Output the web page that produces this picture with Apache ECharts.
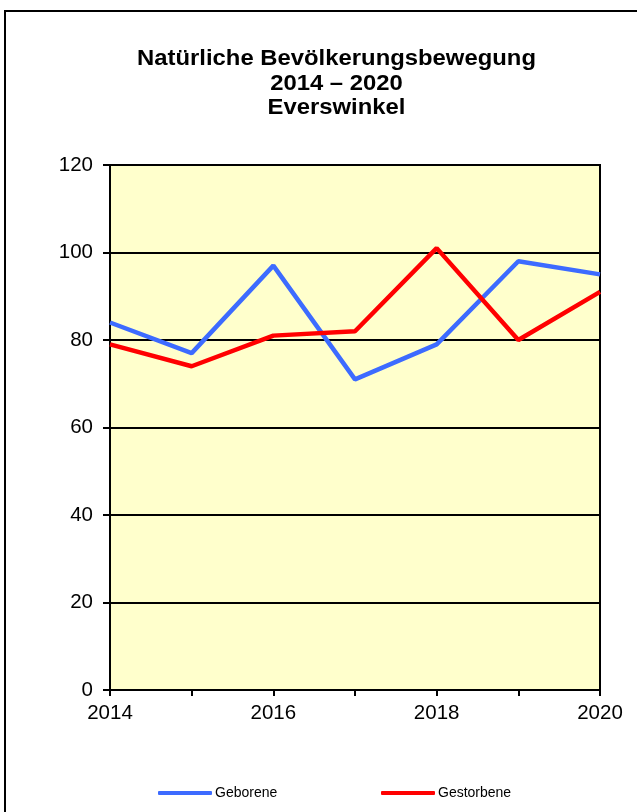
<!DOCTYPE html>
<html><head><meta charset="utf-8">
<script src="https://cdn.jsdelivr.net/npm/echarts@6/dist/echarts.min.js"></script>
<style>html,body{margin:0;padding:0;background:#fff}#c{width:637px;height:812px}</style>
</head><body><div id="c"></div>
<script>
var years = ['2014','2015','2016','2017','2018','2019','2020'];
var geborene = [84, 77, 97, 71, 79, 98, 95];
var gestorbene = [79, 74, 81, 82, 101, 80, 91];
var yTicks = [0, 20, 40, 60, 80, 100, 120];
var titleText = 'Natürliche Bevölkerungsbewegung\n2014 – 2020\nEverswinkel';

var font = 'Arial, "Liberation Sans", sans-serif';
var chart = echarts.init(document.getElementById('c'));
chart.setOption({
  animation: false,
  backgroundColor: '#fff',
  graphic: [
    {type:'rect', shape:{x:5, y:11, width:700, height:900}, style:{fill:'none', stroke:'#000', lineWidth:2}, z:-1},
    {type:'text', x:336.5, y:47, scaleX:1.06, originX:0,
      style:{text:titleText, fontFamily:font, fontWeight:'bold', fontSize:22.5, lineHeight:24.5, fill:'#000', align:'center', verticalAlign:'top'}}
  ],
  grid: {left: 110, right: 37, top: 165, bottom: 122, show: true, backgroundColor: '#FFFFCC', borderColor: '#000', borderWidth: 2},
  legend: [
    {data: ['Geborene'], left: 153, top: 781, icon: 'roundRect', itemWidth: 54, itemHeight: 4,
      textStyle: {fontFamily: font, fontSize: 14, color: '#000', padding:[0,0,0,-2]}},
    {data: ['Gestorbene'], left: 376, top: 781, icon: 'roundRect', itemWidth: 54, itemHeight: 4,
      textStyle: {fontFamily: font, fontSize: 14, color: '#000', padding:[0,0,0,-2]}}
  ],
  xAxis: {type: 'category', data: years, boundaryGap: false,
    axisLine: {lineStyle: {color: '#000', width: 2}},
    axisTick: {show: true, interval: 0, length: 6, lineStyle: {color: '#000', width: 2}},
    axisLabel: {interval: 1, color: '#000', fontFamily: font, fontSize: 20.5, margin: 13},
    splitLine: {show: false}},
  yAxis: {type: 'value', min: yTicks[0], max: yTicks[yTicks.length-1], interval: 20,
    axisLine: {show: true, lineStyle: {color: '#000', width: 2}},
    axisTick: {show: true, length: 7, lineStyle: {color: '#000', width: 2}},
    axisLabel: {color: '#000', fontFamily: font, fontSize: 20.5, margin: 17},
    splitLine: {show: true, lineStyle: {color: '#000', width: 2}}},
  series: [
    {name: 'Geborene', type: 'line', data: geborene, symbol: 'none', color: '#3D6BFF',
      lineStyle: {width: 4.5, color: '#3D6BFF'}},
    {name: 'Gestorbene', type: 'line', data: gestorbene, symbol: 'none', color: '#FF0000',
      lineStyle: {width: 4.5, color: '#FF0000'}}
  ]
});
</script></body></html>
